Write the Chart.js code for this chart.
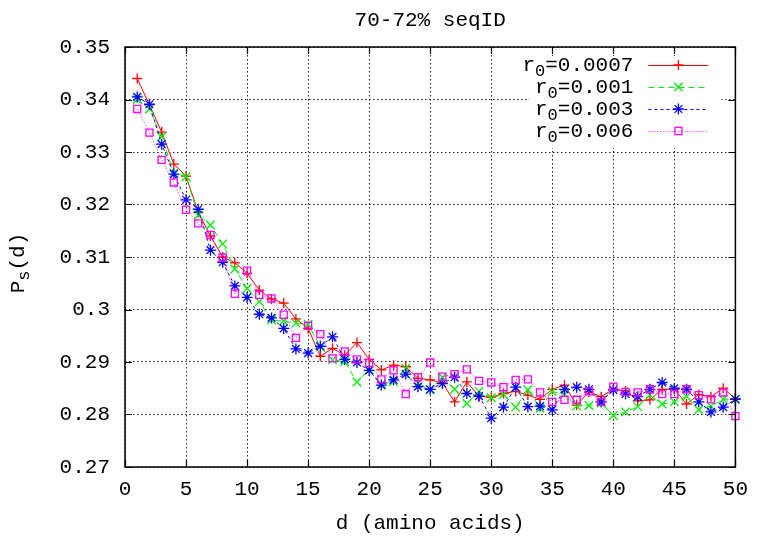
<!DOCTYPE html>
<html>
<head>
<meta charset="utf-8">
<script src="https://cdn.jsdelivr.net/npm/chart.js@4.4.0/dist/chart.umd.min.js"></script>
<style>
  html, body { margin: 0; padding: 0; background: #fff; }
</style>
</head>
<body>
<canvas id="psChart" width="758" height="538"></canvas>
<script>
// distance along the sequence (amino acids)
const dist = [1, 2, 3, 4, 5, 6, 7, 8, 9, 10,
              11, 12, 13, 14, 15, 16, 17, 18, 19, 20,
              21, 22, 23, 24, 25, 26, 27, 28, 29, 30,
              31, 32, 33, 34, 35, 36, 37, 38, 39, 40,
              41, 42, 43, 44, 45, 46, 47, 48, 49, 50];

// P_s(d), one array per r0
const ps_r0007 = [0.3440, 0.3390, 0.3338, 0.3277, 0.3254, 0.3185, 0.3140, 0.3100, 0.3089, 0.3069,
                  0.3037, 0.3020, 0.3012, 0.2982, 0.2964, 0.2911, 0.2926, 0.2913, 0.2937, 0.2905,
                  0.2885, 0.2894, 0.2891, 0.2869, 0.2866, 0.2860, 0.2824, 0.2862, 0.2835, 0.2833,
                  0.2840, 0.2844, 0.2837, 0.2829, 0.2848, 0.2856, 0.2818, 0.2843, 0.2834, 0.2848,
                  0.2845, 0.2826, 0.2828, 0.2848, 0.2848, 0.2820, 0.2838, 0.2834, 0.2850, 0.2830];
const ps_r001 = [0.3400, 0.3382, 0.3329, 0.3260, 0.3253, 0.3180, 0.3161, 0.3125, 0.3077, 0.3040,
                 0.3015, 0.2980, 0.2978, 0.2974, 0.2972, 0.2929, 0.2904, 0.2901, 0.2862, 0.2885,
                 0.2858, 0.2863, 0.2888, 0.2860, 0.2847, 0.2871, 0.2848, 0.2821, 0.2844, 0.2832,
                 0.2838, 0.2814, 0.2847, 0.2812, 0.2844, 0.2838, 0.2816, 0.2817, 0.2822, 0.2798,
                 0.2805, 0.2815, 0.2837, 0.2820, 0.2824, 0.2834, 0.2809, 0.2816, 0.2829, 0.2829];
const ps_r003 = [0.3405, 0.3391, 0.3315, 0.3258, 0.3209, 0.3191, 0.3113, 0.3090, 0.3045, 0.3023,
                 0.2991, 0.2984, 0.2964, 0.2925, 0.2917, 0.2930, 0.2948, 0.2905, 0.2899, 0.2884,
                 0.2856, 0.2866, 0.2877, 0.2853, 0.2848, 0.2859, 0.2871, 0.2840, 0.2835, 0.2793,
                 0.2814, 0.2852, 0.2815, 0.2816, 0.2809, 0.2848, 0.2852, 0.2848, 0.2824, 0.2847,
                 0.2839, 0.2834, 0.2848, 0.2861, 0.2850, 0.2848, 0.2824, 0.2805, 0.2814, 0.2829];
const ps_r006 = [0.3382, 0.3337, 0.3285, 0.3242, 0.3190, 0.3164, 0.3142, 0.3099, 0.3030, 0.3074,
                 0.3028, 0.3021, 0.2990, 0.2946, 0.2969, 0.2953, 0.2907, 0.2920, 0.2905, 0.2898,
                 0.2867, 0.2884, 0.2839, 0.2871, 0.2899, 0.2872, 0.2877, 0.2886, 0.2864, 0.2861,
                 0.2852, 0.2866, 0.2867, 0.2842, 0.2824, 0.2828, 0.2828, 0.2844, 0.2824, 0.2853,
                 0.2843, 0.2842, 0.2848, 0.2839, 0.2839, 0.2848, 0.2837, 0.2829, 0.2842, 0.2797];

const seriesValues = [ps_r0007, ps_r001, ps_r003, ps_r006];
const seriesNames = ['0.0007', '0.001', '0.003', '0.006'];

const chartTitle = '70-72% seqID';
const xTitle = 'd (amino acids)';

const FONT = "'Liberation Mono', 'DejaVu Sans Mono', monospace";
const FS = 21;

// gnuplot-ish looks for each series
const looks = [
    { color: '#ff0000', dash: [],     point: 'cross',    radius: 5 },
    { color: '#00ee00', dash: [6, 4], point: 'crossRot', radius: 6 },
    { color: '#0000ff', dash: [3, 3], point: 'star',     radius: 5.5 },
    { color: '#ff00ff', dash: [1, 2], point: 'rect',     radius: 5 },
];

function xy(vals) {
    return dist.map((d, i) => ({ x: d, y: vals[i] }));
}

// text with subscripts, parts like [['r'], ['0', true], ['=0.0007']]
function partsWidth(ctx, parts) {
    let w = 0;
    parts.forEach(p => {
        ctx.font = (p[1] ? Math.round(FS * 0.8) : FS) + 'px ' + FONT;
        w += ctx.measureText(p[0]).width;
    });
    return w;
}
function drawParts(ctx, parts, x, y, align) {
    const w = partsWidth(ctx, parts);
    let cx = align === 'right' ? x - w : (align === 'center' ? x - w / 2 : x);
    ctx.textAlign = 'left';
    ctx.textBaseline = 'middle';
    parts.forEach(p => {
        ctx.font = (p[1] ? Math.round(FS * 0.8) : FS) + 'px ' + FONT;
        ctx.fillText(p[0], cx, p[1] ? y + 6 : y);
        cx += ctx.measureText(p[0]).width;
    });
}

const gnuplotLook = {
    id: 'gnuplotLook',
    beforeDatasetsDraw(chart) {
        // key box is opaque, hides the grid behind it
        const a = chart.chartArea;
        const ctx = chart.ctx;
        ctx.save();
        ctx.fillStyle = '#fff';
        ctx.fillRect(a.right - 206, a.top + 9, 192, 92);
        ctx.restore();
    },
    afterDraw(chart) {
        const ctx = chart.ctx;
        const a = chart.chartArea;
        const xs = chart.scales.x, ys = chart.scales.y;
        ctx.save();

        // frame + inward ticks on all four sides
        ctx.strokeStyle = '#000';
        ctx.lineWidth = 1.5;
        ctx.strokeRect(a.left, a.top, a.right - a.left, a.bottom - a.top);
        ctx.lineWidth = 1.2;
        ctx.beginPath();
        xs.ticks.forEach(t => {
            const px = Math.round(xs.getPixelForValue(t.value)) + 0.5;
            ctx.moveTo(px, a.bottom); ctx.lineTo(px, a.bottom - 7);
            ctx.moveTo(px, a.top); ctx.lineTo(px, a.top + 7);
        });
        ys.ticks.forEach(t => {
            const py = Math.round(ys.getPixelForValue(t.value)) + 0.5;
            ctx.moveTo(a.left, py); ctx.lineTo(a.left + 7, py);
            ctx.moveTo(a.right, py); ctx.lineTo(a.right - 7, py);
        });
        ctx.stroke();

        // titles
        ctx.fillStyle = '#000';
        const cx = (a.left + a.right) / 2;
        drawParts(ctx, [[chartTitle]], cx, 20, 'center');
        drawParts(ctx, [[xTitle]], cx, 523, 'center');
        ctx.save();
        ctx.translate(18, (a.top + a.bottom) / 2 + 6);
        ctx.rotate(-Math.PI / 2);
        drawParts(ctx, [['P'], ['s', true], ['(d)']], 0, 0, 'center');
        ctx.restore();

        // key
        seriesNames.forEach((name, i) => {
            const ly = a.top + 18 + i * 22;
            const lk = looks[i];
            ctx.fillStyle = '#000';
            drawParts(ctx, [['r'], ['0', true], ['=' + name]], a.right - 102, ly, 'right');
            ctx.strokeStyle = lk.color;
            ctx.lineWidth = 1;
            ctx.setLineDash(lk.dash);
            ctx.beginPath();
            ctx.moveTo(a.right - 87, ly + 0.5);
            ctx.lineTo(a.right - 27, ly + 0.5);
            ctx.stroke();
            ctx.setLineDash([]);
            ctx.fillStyle = 'rgba(0,0,0,0)';
            ctx.lineWidth = 1.3;
            Chart.helpers.drawPoint(ctx, {
                pointStyle: lk.point, rotation: 0, radius: lk.radius, borderWidth: 1.3
            }, a.right - 57, ly);
        });
        ctx.restore();
    }
};

new Chart(document.getElementById('psChart'), {
    type: 'line',
    data: {
        datasets: seriesValues.map((vals, i) => ({
            label: 'r0=' + seriesNames[i],
            data: xy(vals),
            borderColor: looks[i].color,
            backgroundColor: 'rgba(0,0,0,0)',
            borderWidth: 1,
            borderDash: looks[i].dash,
            pointStyle: looks[i].point,
            pointRadius: looks[i].radius,
            pointBorderWidth: 1.3,
            pointBorderColor: looks[i].color,
            pointBackgroundColor: 'rgba(0,0,0,0)',
            tension: 0,
            clip: false,
            order: 4 - i  // later series on top, like gnuplot
        }))
    },
    options: {
        responsive: false,
        animation: false,
        layout: { padding: { top: 47, right: 19, left: 0, bottom: 0 } },
        scales: {
            x: {
                type: 'linear',
                min: 0, max: 50,
                ticks: { stepSize: 5, color: '#000', font: { family: FONT, size: FS }, padding: 10, maxRotation: 0 },
                grid: { color: '#222', lineWidth: 1, drawTicks: false },
                border: { display: false, dash: [1.5, 2.5] },
                afterFit: s => { s.height = 71; }
            },
            y: {
                min: 0.27, max: 0.35,
                ticks: {
                    stepSize: 0.01, color: '#000', font: { family: FONT, size: FS }, padding: 15,
                    callback: v => String(+v.toFixed(2))
                },
                grid: { color: '#222', lineWidth: 1, drawTicks: false },
                border: { display: false, dash: [1.5, 2.5] },
                afterFit: s => { s.width = 125; }
            }
        },
        plugins: {
            legend: { display: false },
            tooltip: { enabled: false },
            title: { display: false }
        }
    },
    plugins: [gnuplotLook]
});
</script>
</body>
</html>
